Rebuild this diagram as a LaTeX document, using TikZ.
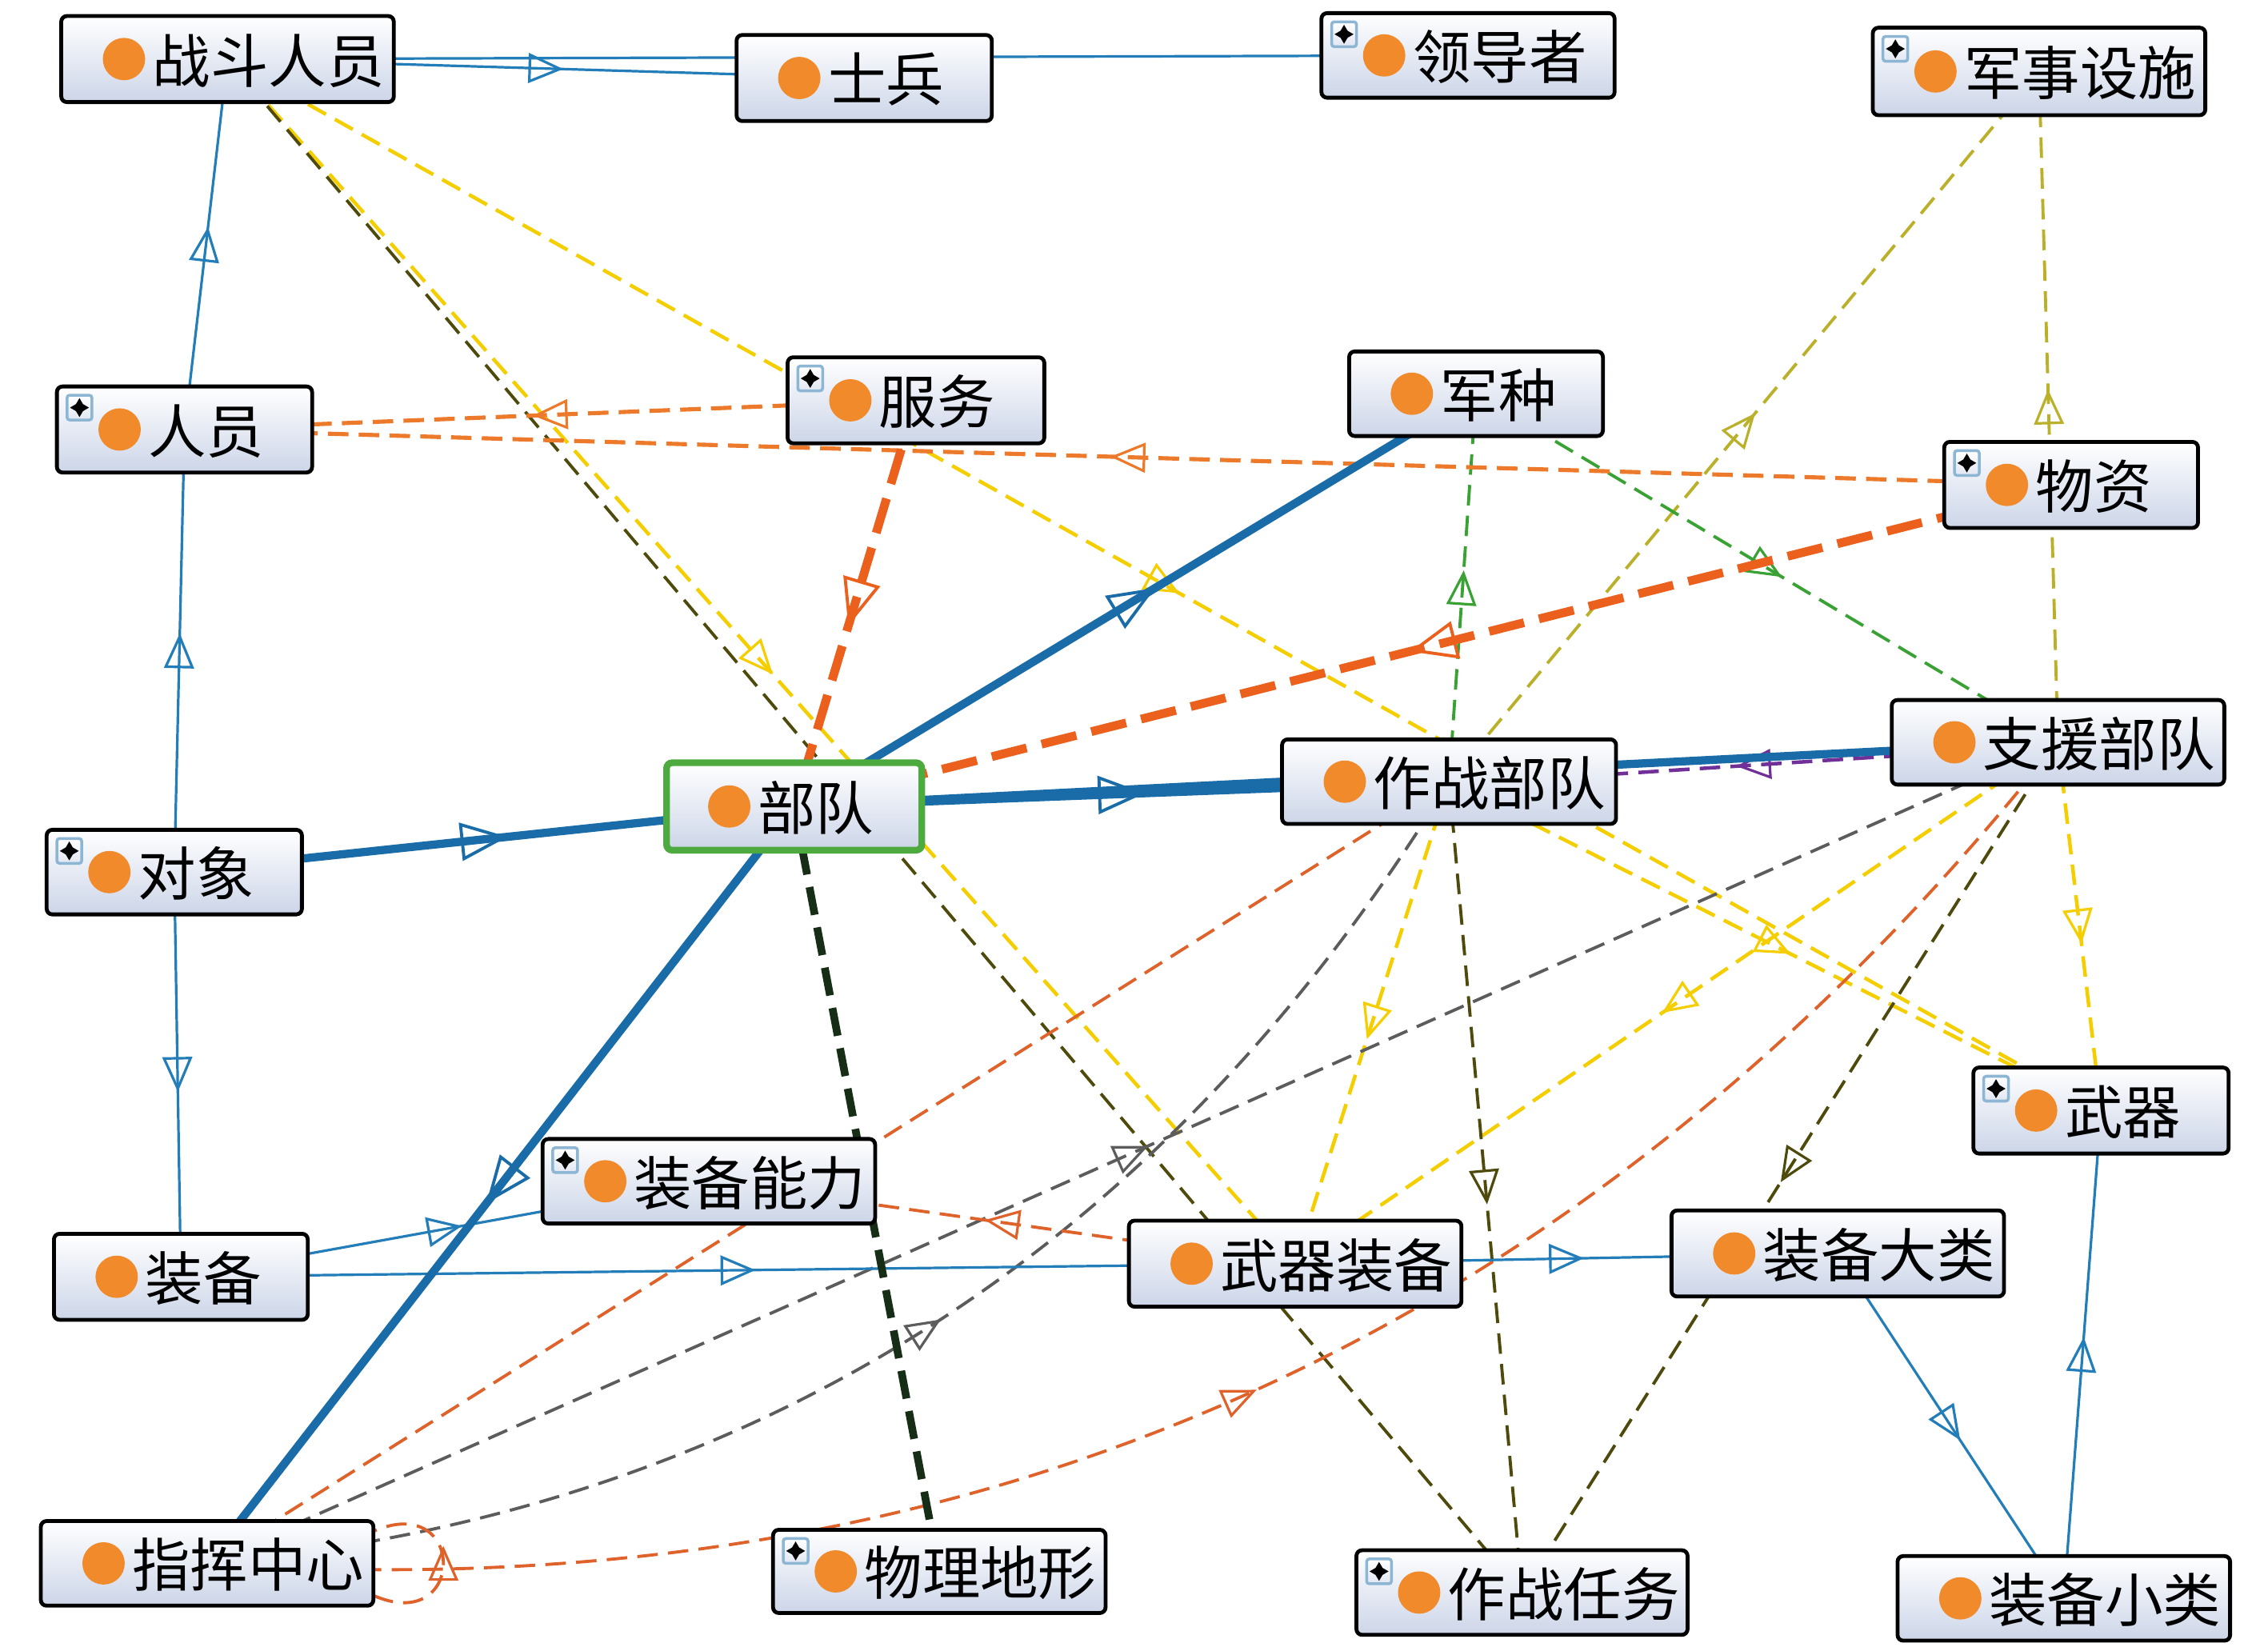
\documentclass[tikz,border=0pt]{standalone}
\usepackage{fontspec}
\newfontfamily\cjk{Noto Sans CJK SC}
\usetikzlibrary{arrows.meta,decorations.markings,fit,calc}
\pgfdeclarelayer{bgfill}
\pgfdeclarelayer{edges}
\pgfsetlayers{bgfill,edges,main}
\definecolor{cblue}{RGB}{35,125,185}
\definecolor{cbluek}{RGB}{25,108,168}
\definecolor{corange}{RGB}{236,122,42}
\definecolor{corangek}{RGB}{236,96,30}
\definecolor{corangeth}{RGB}{222,98,42}
\definecolor{cyellow}{RGB}{245,206,0}
\definecolor{colive}{RGB}{78,74,12}
\definecolor{ckhaki}{RGB}{186,176,42}
\definecolor{cgreen}{RGB}{58,162,52}
\definecolor{cgray}{RGB}{92,92,92}
\definecolor{cpurple}{RGB}{112,48,152}
\definecolor{cdkgreen}{RGB}{22,46,22}
\definecolor{cdot}{RGB}{240,138,42}
\definecolor{nodebot}{RGB}{204,213,232}
\definecolor{cgborder}{RGB}{76,170,62}
\definecolor{plusframe}{RGB}{140,182,212}
\tikzset{
  box/.style={draw=black, line width=0.75pt, rounded corners=1.1pt, top color=white, bottom color=nodebot, inner sep=0pt, outer sep=0pt},
  bdstyle/.style={draw=cgborder, line width=1.3pt},
  lbl/.style={inner sep=0pt, anchor=west, text=black, font=\cjk\fontsize{11.3pt}{13pt}\selectfont},
  amid/.style={postaction={decorate}, decoration={markings, mark=at position 0.5 with {\pgftransformxshift{3.4pt}\pgfsetlinewidth{0.5pt}\arrow{Triangle[open,length=6.8pt,width=5.8pt]}}}},
  amidk/.style={postaction={decorate}, decoration={markings, mark=at position 0.5 with {\pgftransformxshift{4.6pt}\pgfsetlinewidth{0.6pt}\arrow{Triangle[open,length=9.2pt,width=7.4pt]}}}},
  ebl/.style={cblue, line width=0.5pt},
  eblk/.style={cbluek, line width=1.6pt},
  dsh/.style={dash pattern=on 4pt off 2pt},
  eyel/.style={dsh, cyellow, line width=0.7pt},
  eoli/.style={dsh, colive, line width=0.6pt},
  ekha/.style={dsh, ckhaki, line width=0.6pt},
  egrn/.style={dsh, cgreen, line width=0.6pt},
  egry/.style={dsh, cgray, line width=0.6pt},
  eor/.style={dsh, corangeth, line width=0.6pt},
  eorm/.style={dsh, corange, line width=0.8pt},
  epur/.style={dsh, cpurple, line width=0.7pt},
  eork/.style={corangek, line width=1.7pt, dash pattern=on 7pt off 3pt},
  edkg/.style={cdkgreen, line width=1.5pt, dash pattern=on 5.5pt off 2.5pt},
}
\newcommand\ontonode[7][]{%
  \node[box,#1,fit={(#3,#4) (#5,#6)}] (#2) {};
  \fill[cdot] ($(#2.west)+(43,0)$) circle (0.145cm);
  \node[lbl] (#2t) at ($(#2.west)+(62,1)$) {#7};
}
\newcommand\plusicon[1]{%
  \begin{scope}[shift={($(#1.north west)+(15.5,14.5)$)}]
    \shade[top color=white, bottom color=nodebot!60, draw=plusframe, line width=0.55pt, rounded corners=0.5pt] (-8.5,-8.5) rectangle (8.5,8.5);
    \fill[black] (0,-6.5) -- (2.4,-2.4) -- (6.5,0) -- (2.4,2.4) -- (0,6.5) -- (-2.4,2.4) -- (-6.5,0) -- (-2.4,-2.4) -- cycle;
  \end{scope}
}
\begin{document}
\begin{tikzpicture}[x=0.01cm, y=-0.01cm]
\useasboundingbox (0,0) rectangle (1555,1131.56);
\begin{pgfonlayer}{bgfill}
\fill[white] (0,0) rectangle (1555,1131.56);
\end{pgfonlayer}

\ontonode{zdry}{42}{11}{270}{70}{战斗人员}
\ontonode{sb}{505}{24}{680}{83}{士兵}
\ontonode{ldz}{906}{9}{1107}{67}{领导者}
\ontonode{jsss}{1284}{19}{1512}{79}{军事设施}
\ontonode{ry}{39}{265}{214}{324}{人员}
\ontonode{fw}{540}{245}{716}{304}{服务}
\ontonode{jz}{925}{241}{1099}{299}{军种}
\ontonode{wz}{1333}{303}{1507}{362}{物资}
\ontonode[bdstyle]{bd}{457}{523}{632}{583}{部队}
\ontonode{zzbd}{879}{507}{1108}{565}{作战部队}
\ontonode{yzbd}{1297}{480}{1525}{538}{支援部队}
\ontonode{dx}{32}{569}{207}{627}{对象}
\ontonode{wq}{1353}{732}{1528}{791}{武器}
\ontonode{zbnl}{372}{781}{600}{839}{装备能力}
\ontonode{zb}{37}{846}{211}{905}{装备}
\ontonode{wqzb}{774}{837}{1002}{896}{武器装备}
\ontonode{zbdl}{1146}{830}{1374}{889}{装备大类}
\ontonode{zhzx}{28}{1043}{256}{1101}{指挥中心}
\ontonode{wldx}{530}{1049}{758}{1106}{物理地形}
\ontonode{zzrw}{930}{1063}{1157}{1121}{作战任务}
\ontonode{zbxl}{1301}{1067}{1529}{1125}{装备小类}

\plusicon{ldz}
\plusicon{jsss}
\plusicon{ry}
\plusicon{fw}
\plusicon{wz}
\plusicon{dx}
\plusicon{wq}
\plusicon{zbnl}
\plusicon{wldx}
\plusicon{zzrw}

\begin{pgfonlayer}{edges}
% yellow
\draw[eyel, amid] (zdry.center) -- (wqzb.center);
\draw[eyel, amid] (zdry.center) -- (wq.center);
\draw[eyel, amid] (zzbd.center) -- (wq.center);
\draw[eyel, amid] (zzbd.center) -- (wqzb.center);
\draw[eyel, amid] (yzbd.center) -- (wqzb.center);
\draw[eyel, amid] (yzbd.center) -- (wq.center);
% olive
\draw[eoli, amid] (zdry.center) -- (zzrw.center);
\draw[eoli, amid] (zzbd.center) -- (zzrw.center);
\draw[eoli, amid] (yzbd.center) -- (zzrw.center);
% khaki
\draw[ekha, amid] (zzbd.center) -- (jsss.center);
\draw[ekha, amid] (yzbd.center) -- (jsss.center);
% green
\draw[egrn, amid] (zzbd.center) -- (jz.center);
\draw[egrn, amid] (jz.center) -- (yzbd.center);
% gray
\draw[egry, amid] (zhzx.center) -- (yzbd.center);
\draw[egry, amid] (zhzx.center) .. controls +(369,-33) and +(-198,324) .. (zzbd.center);
% orange thin
\draw[eor, amid] (zhzx.center) -- (zzbd.center);
\draw[eor, amid] (zhzx.center) .. controls +(521,36) and +(-325,411) .. (yzbd.center);
\draw[eor, amid] ($(zhzx.east)+(0,22)$) .. controls +(64,28) and +(64,-28) .. ($(zhzx.east)+(0,-22)$);
\draw[eor, amid] (wqzb.center) -- (zbnl.center);
\draw[eorm, amid] (fw.center) -- (ry.center);
\draw[eorm, amid] (wz.center) -- (ry.center);
% purple
\draw[epur, amid] ([yshift=-0.6pt]yzbd.center) -- ([yshift=-0.6pt]zzbd.center);
% blue thin
\draw[ebl, amid] (zdry.center) -- (sb.center);
\draw[ebl, amid] (zdry.center) -- (ldz.center);
\draw[ebl, amid] (ry.center) -- (zdry.center);
\draw[ebl, amid] (dx.center) -- (ry.center);
\draw[ebl, amid] (dx.center) -- (zb.center);
\draw[ebl, amid] (zb.center) -- (zbnl.center);
\draw[ebl, amid] (zb.center) -- (wqzb.center);
\draw[ebl, amid] (wqzb.center) -- (zbdl.center);
\draw[ebl, amid] (zbdl.center) -- (zbxl.center);
\draw[ebl, amid] (zbxl.center) -- (wq.center);
% dark green thick
\draw[edkg] (bd.center) -- (wldx.center);
% orange thick
\draw[eork, amidk] (fw.center) -- (bd.center);
\draw[eork, amidk] (wz.center) -- (bd.center);
% blue thick
\draw[eblk, amidk] (dx.center) -- (bd.center);
\draw[eblk, amidk] (bd.center) -- (zzbd.center);
\draw[eblk, amidk] (bd.center) -- (yzbd.center);
\draw[eblk, amidk] (bd.center) -- (jz.center);
\draw[eblk, amidk] (bd.center) -- (zhzx.center);
\end{pgfonlayer}
\end{tikzpicture}
\end{document}
